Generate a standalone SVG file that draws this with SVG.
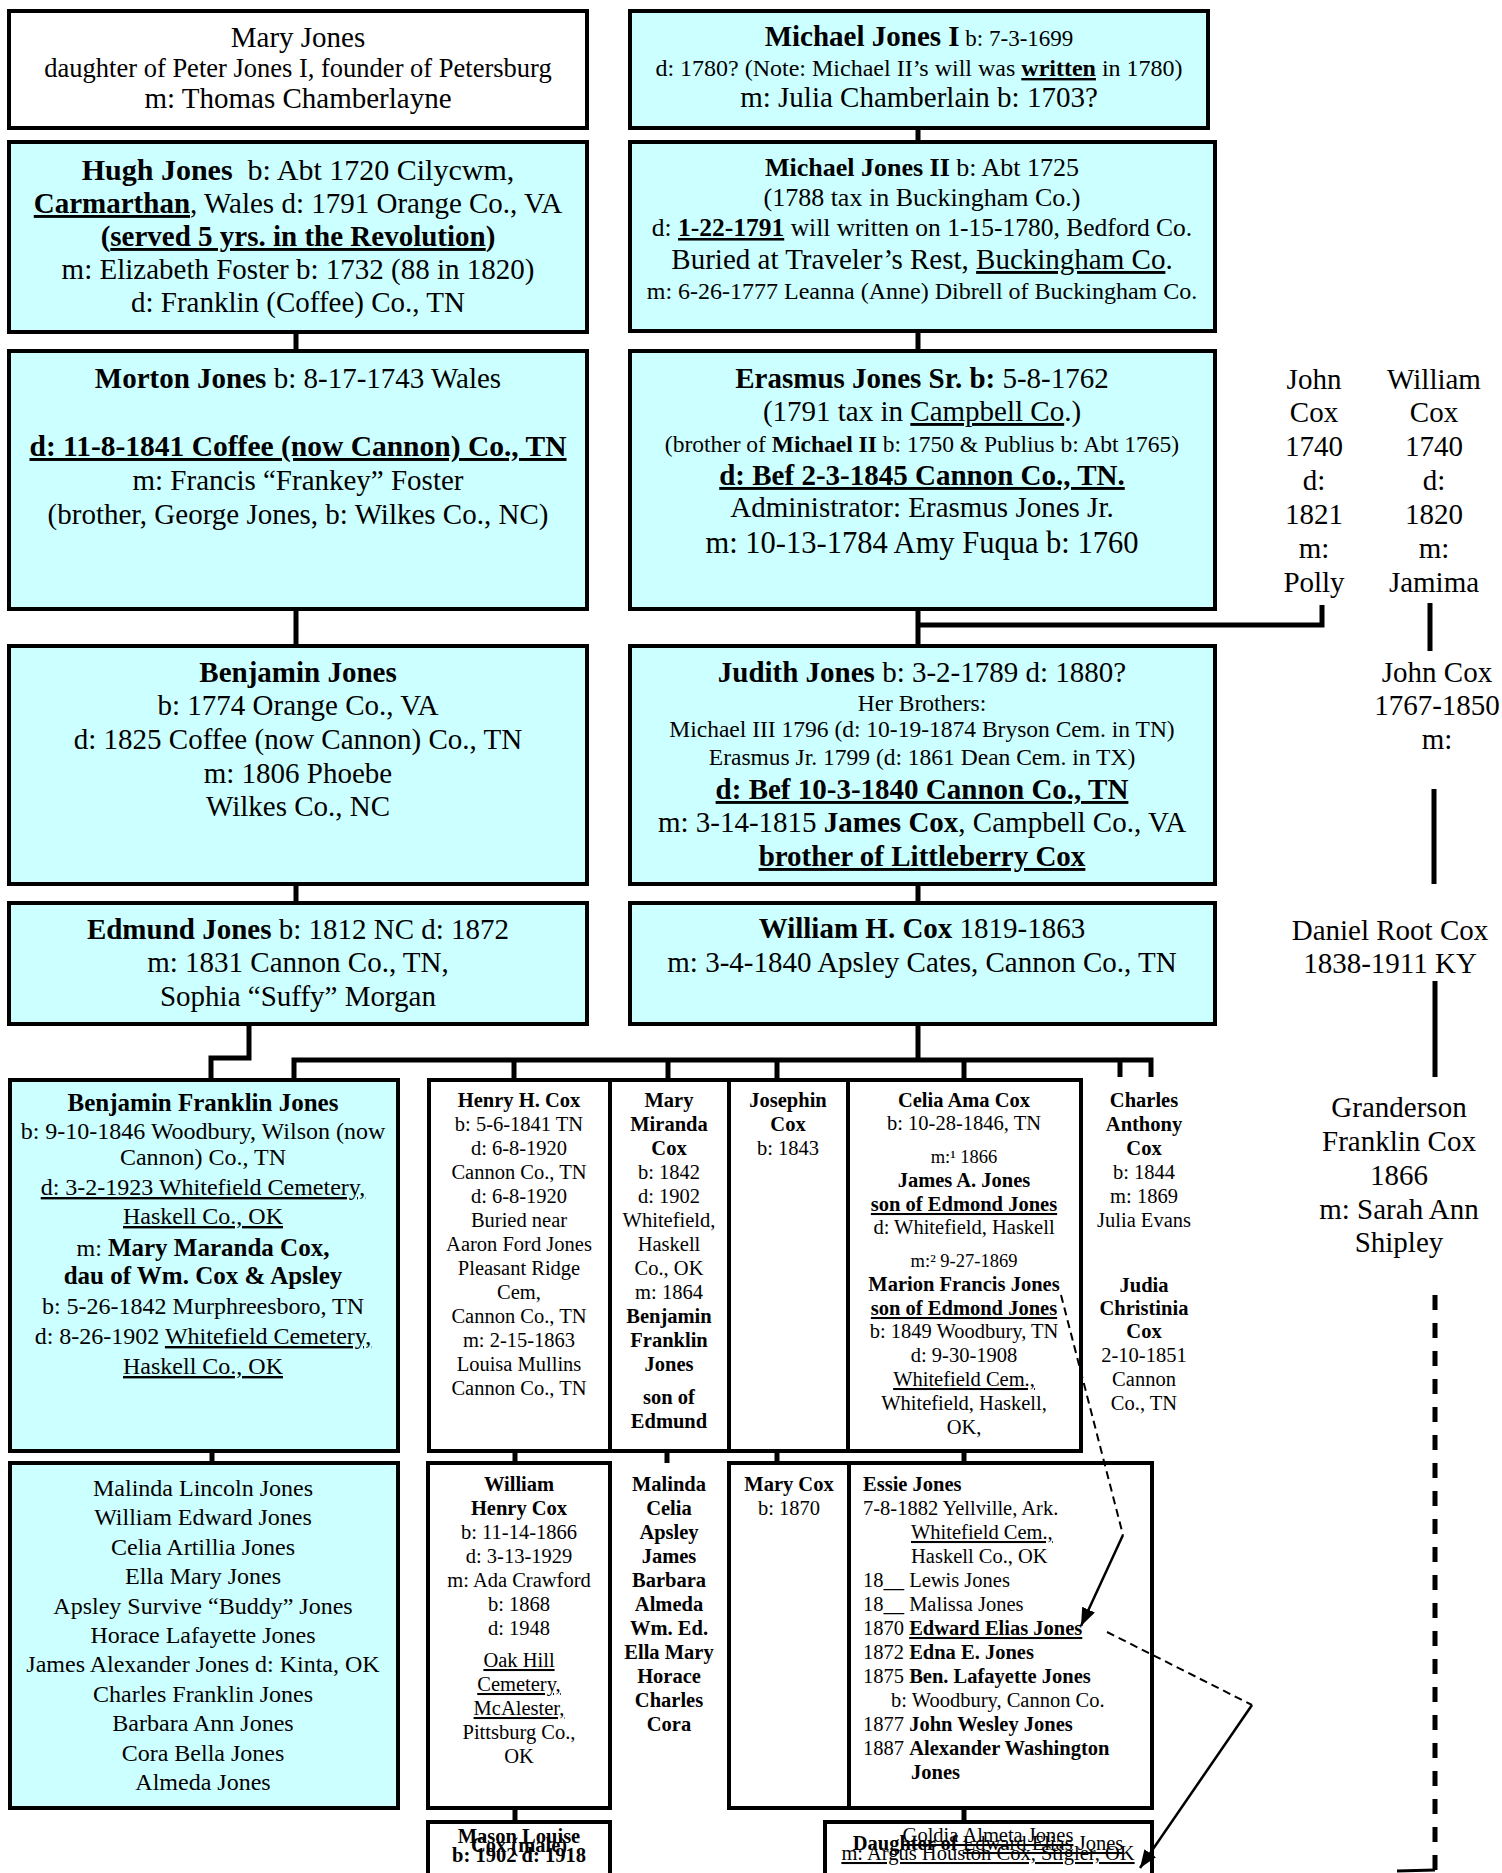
<svg xmlns="http://www.w3.org/2000/svg" width="1502" height="1873" viewBox="0 0 1502 1873">
<style>
.cy{fill:#ccffff;stroke:#000;stroke-width:4}
.wh{fill:#fff;stroke:#000;stroke-width:4}
.ln{stroke:#000;stroke-width:5;fill:none}
.dv{stroke:#000;stroke-width:4}
.ds{stroke:#000;stroke-width:2;fill:none;stroke-dasharray:8 5}
.ar{stroke:#000;stroke-width:2.5;fill:none}
text{font-family:"Liberation Serif","Times New Roman",serif;fill:#000}
.m{text-anchor:middle}
.b{font-weight:bold}
.u{text-decoration:underline}
.t29{font-size:29px}
.t24{font-size:23.5px}
.g{font-size:20.5px}
.gs{font-size:18.5px}
.gl{font-size:24px}
</style>
<defs>
<marker id="ah" markerUnits="userSpaceOnUse" markerWidth="20" markerHeight="14" refX="18" refY="7" orient="auto">
<path d="M0,0 L18,7 L0,14 z" fill="#000"/>
</marker>
</defs>

<g id="mary-jones">
<rect class="wh" x="9" y="11" width="578" height="117"/>
<text class="m t29" x="298" y="47">Mary Jones</text>
<text class="m" x="298" y="77" font-size="26.5">daughter of Peter Jones I, founder of Petersburg</text>
<text class="m t29" x="298" y="108">m: Thomas Chamberlayne</text>
</g>

<g id="michael-jones-i">
<rect class="cy" x="630" y="11" width="578" height="117"/>
<text class="m" x="919" y="46" font-size="23"><tspan class="b" font-size="29">Michael Jones I</tspan>  b: 7-3-1699</text>
<text class="m" x="919" y="76" font-size="24">d: 1780? (Note: Michael II’s will was <tspan class="b u">written</tspan> in 1780)</text>
<text class="m t29" x="919" y="107">m: Julia Chamberlain b: 1703?</text>
</g>

<g id="hugh-jones">
<rect class="cy" x="9" y="142" width="578" height="190"/>
<text class="m" x="298" y="180" font-size="30" xml:space="preserve"><tspan class="b">Hugh Jones</tspan>  b: Abt 1720 Cilycwm,</text>
<text class="m t29" x="298" y="213"><tspan class="b u">Carmarthan</tspan>, Wales d: 1791 Orange Co., VA</text>
<text class="m t29 b" x="298" y="246">(<tspan class="u">served 5 yrs. in the Revolution</tspan>)</text>
<text class="m t29" x="298" y="279">m: Elizabeth Foster b: 1732 (88 in 1820)</text>
<text class="m t29" x="298" y="312">d: Franklin (Coffee) Co., TN</text>
</g>

<g id="michael-jones-ii">
<rect class="cy" x="630" y="142" width="585" height="189"/>
<text class="m" x="922" y="176" font-size="26"><tspan class="b">Michael Jones II</tspan> b: Abt 1725</text>
<text class="m" x="922" y="206" font-size="26">(1788 tax in Buckingham Co.)</text>
<text class="m" x="922" y="236" font-size="25.5">d: <tspan class="b u">1-22-1791</tspan> will written on 1-15-1780, Bedford Co.</text>
<text class="m t29" x="922" y="269">Buried at Traveler’s Rest, <tspan class="u">Buckingham Co</tspan>.</text>
<text class="m" x="922" y="299" font-size="24">m: 6-26-1777 Leanna (Anne) Dibrell of Buckingham Co.</text>
</g>

<g id="morton-jones">
<rect class="cy" x="9" y="351" width="578" height="258"/>
<text class="m t29" x="298" y="388"><tspan class="b">Morton Jones</tspan> b: 8-17-1743 Wales</text>
<text class="m b u" x="298" y="456" font-size="29.5">d: 11-8-1841 Coffee (now Cannon) Co., TN</text>
<text class="m t29" x="298" y="490">m: Francis “Frankey” Foster</text>
<text class="m t29" x="298" y="524">(brother, George Jones, b: Wilkes Co., NC)</text>
</g>

<g id="erasmus-jones-sr">
<rect class="cy" x="630" y="351" width="585" height="258"/>
<text class="m t29" x="922" y="388"><tspan class="b">Erasmus Jones Sr. b:</tspan> 5-8-1762</text>
<text class="m t29" x="922" y="421">(1791 tax in <tspan class="u">Campbell Co</tspan>.)</text>
<text class="m t24" x="922" y="452">(brother of <tspan class="b">Michael II</tspan> b: 1750 &amp; Publius b: Abt 1765)</text>
<text class="m t29 b u" x="922" y="485">d: Bef 2-3-1845 Cannon Co., TN.</text>
<text class="m t29" x="922" y="517">Administrator: Erasmus Jones Jr.</text>
<text class="m" x="922" y="553" font-size="30.5">m: 10-13-1784 Amy Fuqua b: 1760</text>
</g>

<g id="john-cox-1740">
<text class="m t29" x="1314" y="389">John</text>
<text class="m t29" x="1314" y="422">Cox</text>
<text class="m t29" x="1314" y="456">1740</text>
<text class="m t29" x="1314" y="490">d:</text>
<text class="m t29" x="1314" y="524">1821</text>
<text class="m t29" x="1314" y="558">m:</text>
<text class="m t29" x="1314" y="592">Polly</text>
</g>

<g id="william-cox-1740">
<text class="m t29" x="1434" y="389">William</text>
<text class="m t29" x="1434" y="422">Cox</text>
<text class="m t29" x="1434" y="456">1740</text>
<text class="m t29" x="1434" y="490">d:</text>
<text class="m t29" x="1434" y="524">1820</text>
<text class="m t29" x="1434" y="558">m:</text>
<text class="m t29" x="1434" y="592">Jamima</text>
</g>

<g id="benjamin-jones">
<rect class="cy" x="9" y="646" width="578" height="238"/>
<text class="m t29 b" x="298" y="682">Benjamin Jones</text>
<text class="m t29" x="298" y="715">b: 1774 Orange Co., VA</text>
<text class="m t29" x="298" y="749">d: 1825 Coffee (now Cannon) Co., TN</text>
<text class="m t29" x="298" y="783">m: 1806 Phoebe</text>
<text class="m t29" x="298" y="816">Wilkes Co., NC</text>
</g>

<g id="judith-jones">
<rect class="cy" x="630" y="646" width="585" height="238"/>
<text class="m t29" x="922" y="682"><tspan class="b">Judith Jones</tspan> b: 3-2-1789 d: 1880?</text>
<text class="m t24" x="922" y="711">Her Brothers:</text>
<text class="m t24" x="922" y="737">Michael III 1796 (d: 10-19-1874 Bryson Cem. in TN)</text>
<text class="m t24" x="922" y="765">Erasmus Jr. 1799 (d: 1861 Dean Cem. in TX)</text>
<text class="m t29 b u" x="922" y="799">d: Bef 10-3-1840 Cannon Co., TN</text>
<text class="m t29" x="922" y="832">m: 3-14-1815 <tspan class="b">James Cox</tspan>, Campbell Co., VA</text>
<text class="m t29 b u" x="922" y="866">brother of Littleberry Cox</text>
</g>

<g id="john-cox-1767">
<text class="m t29" x="1437" y="682">John Cox</text>
<text class="m t29" x="1437" y="715">1767-1850</text>
<text class="m t29" x="1437" y="749">m:</text>
</g>

<g id="edmund-jones">
<rect class="cy" x="9" y="903" width="578" height="121"/>
<text class="m t29" x="298" y="939"><tspan class="b">Edmund Jones</tspan> b: 1812 NC d: 1872</text>
<text class="m t29" x="298" y="972">m: 1831 Cannon Co., TN,</text>
<text class="m t29" x="298" y="1006">Sophia “Suffy” Morgan</text>
</g>

<g id="william-h-cox">
<rect class="cy" x="630" y="903" width="585" height="121"/>
<text class="m t29" x="922" y="938"><tspan class="b">William H. Cox</tspan> 1819-1863</text>
<text class="m t29" x="922" y="972">m: 3-4-1840 Apsley Cates, Cannon Co., TN</text>
</g>

<g id="daniel-root-cox">
<text class="m t29" x="1390" y="940">Daniel Root Cox</text>
<text class="m t29" x="1390" y="973">1838-1911 KY</text>
</g>

<g id="granderson-cox">
<text class="m t29" x="1399" y="1117">Granderson</text>
<text class="m t29" x="1399" y="1151">Franklin Cox</text>
<text class="m t29" x="1399" y="1185">1866</text>
<text class="m t29" x="1399" y="1219">m: Sarah Ann</text>
<text class="m t29" x="1399" y="1252">Shipley</text>
</g>

<g id="benjamin-franklin-jones">
<rect class="cy" x="10" y="1080" width="388" height="371"/>
<text class="m b" x="203" y="1111" font-size="25">Benjamin Franklin Jones</text>
<text class="m gl" x="203" y="1139">b: 9-10-1846 Woodbury, Wilson (now</text>
<text class="m gl" x="203" y="1165">Cannon) Co., TN</text>
<text class="m gl u" x="203" y="1195">d: 3-2-1923 Whitefield Cemetery,</text>
<text class="m gl u" x="203" y="1224">Haskell Co., OK</text>
<text class="m gl" x="203" y="1256">m: <tspan class="b" font-size="25">Mary Maranda Cox,</tspan></text>
<text class="m b" x="203" y="1284" font-size="25">dau of Wm. Cox &amp; Apsley</text>
<text class="m gl" x="203" y="1314">b: 5-26-1842 Murphreesboro, TN</text>
<text class="m gl" x="203" y="1344">d: 8-26-1902 <tspan class="u">Whitefield Cemetery,</tspan></text>
<text class="m gl u" x="203" y="1374">Haskell Co., OK</text>
</g>

<g id="cox-children-table">
<rect class="wh" x="429" y="1080" width="652" height="371"/>
<line class="dv" x1="610" y1="1080" x2="610" y2="1451"/>
<line class="dv" x1="729" y1="1080" x2="729" y2="1451"/>
<line class="dv" x1="848" y1="1080" x2="848" y2="1451"/>
</g>

<g id="henry-h-cox">
<text class="m g b" x="519" y="1107">Henry H. Cox</text>
<text class="m g" x="519" y="1131">b: 5-6-1841 TN</text>
<text class="m g" x="519" y="1155">d: 6-8-1920</text>
<text class="m g" x="519" y="1179">Cannon Co., TN</text>
<text class="m g" x="519" y="1203">d: 6-8-1920</text>
<text class="m g" x="519" y="1227">Buried near</text>
<text class="m g" x="519" y="1251">Aaron Ford Jones</text>
<text class="m g" x="519" y="1275">Pleasant Ridge</text>
<text class="m g" x="519" y="1299">Cem,</text>
<text class="m g" x="519" y="1323">Cannon Co., TN</text>
<text class="m g" x="519" y="1347">m: 2-15-1863</text>
<text class="m g" x="519" y="1371">Louisa Mullins</text>
<text class="m g" x="519" y="1395">Cannon Co., TN</text>
</g>

<g id="mary-miranda-cox">
<text class="m g b" x="669" y="1107">Mary</text>
<text class="m g b" x="669" y="1131">Miranda</text>
<text class="m g b" x="669" y="1155">Cox</text>
<text class="m g" x="669" y="1179">b: 1842</text>
<text class="m g" x="669" y="1203">d: 1902</text>
<text class="m g" x="669" y="1227">Whitefield,</text>
<text class="m g" x="669" y="1251">Haskell</text>
<text class="m g" x="669" y="1275">Co., OK</text>
<text class="m g" x="669" y="1299">m: 1864</text>
<text class="m g b" x="669" y="1323">Benjamin</text>
<text class="m g b" x="669" y="1347">Franklin</text>
<text class="m g b" x="669" y="1371">Jones</text>
<text class="m g b" x="669" y="1404">son of</text>
<text class="m g b" x="669" y="1428">Edmund</text>
</g>

<g id="josephin-cox">
<text class="m g b" x="788" y="1107">Josephin</text>
<text class="m g b" x="788" y="1131">Cox</text>
<text class="m g" x="788" y="1155">b: 1843</text>
</g>

<g id="celia-ama-cox">
<text class="m g b" x="964" y="1107">Celia Ama Cox</text>
<text class="m g" x="964" y="1130">b: 10-28-1846, TN</text>
<text class="m gs" x="964" y="1163">m:¹ 1866</text>
<text class="m g b" x="964" y="1187">James A. Jones</text>
<text class="m g b u" x="964" y="1211">son of Edmond Jones</text>
<text class="m g" x="964" y="1234">d: Whitefield, Haskell</text>
<text class="m gs" x="964" y="1267">m:² 9-27-1869</text>
<text class="m g b" x="964" y="1291">Marion Francis Jones</text>
<text class="m g b u" x="964" y="1315">son of Edmond Jones</text>
<text class="m g" x="964" y="1338">b: 1849 Woodbury, TN</text>
<text class="m g" x="964" y="1362">d: 9-30-1908</text>
<text class="m g u" x="964" y="1386">Whitefield Cem.,</text>
<text class="m g" x="964" y="1410">Whitefield, Haskell,</text>
<text class="m g" x="964" y="1434">OK,</text>
</g>

<g id="charles-anthony-cox">
<text class="m g b" x="1144" y="1107">Charles</text>
<text class="m g b" x="1144" y="1131">Anthony</text>
<text class="m g b" x="1144" y="1155">Cox</text>
<text class="m g" x="1144" y="1179">b: 1844</text>
<text class="m g" x="1144" y="1203">m: 1869</text>
<text class="m g" x="1144" y="1227">Julia Evans</text>
</g>

<g id="judia-christinia-cox">
<text class="m g b" x="1144" y="1292">Judia</text>
<text class="m g b" x="1144" y="1315">Christinia</text>
<text class="m g b" x="1144" y="1338">Cox</text>
<text class="m g" x="1144" y="1362">2-10-1851</text>
<text class="m g" x="1144" y="1386">Cannon</text>
<text class="m g" x="1144" y="1410">Co., TN</text>
</g>

<g id="bfj-children">
<rect class="cy" x="10" y="1463" width="388" height="345"/>
<text class="m gl" x="203" y="1496">Malinda Lincoln Jones</text>
<text class="m gl" x="203" y="1525">William Edward Jones</text>
<text class="m gl" x="203" y="1555">Celia Artillia Jones</text>
<text class="m gl" x="203" y="1584">Ella Mary Jones</text>
<text class="m gl" x="203" y="1614">Apsley Survive “Buddy” Jones</text>
<text class="m gl" x="203" y="1643">Horace Lafayette Jones</text>
<text class="m gl" x="203" y="1672">James Alexander Jones d: Kinta, OK</text>
<text class="m gl" x="203" y="1702">Charles Franklin Jones</text>
<text class="m gl" x="203" y="1731">Barbara Ann Jones</text>
<text class="m gl" x="203" y="1761">Cora Bella Jones</text>
<text class="m gl" x="203" y="1790">Almeda Jones</text>
</g>

<g id="william-henry-cox">
<rect class="wh" x="428" y="1463" width="182" height="345"/>
<text class="m g b" x="519" y="1491">William</text>
<text class="m g b" x="519" y="1515">Henry Cox</text>
<text class="m g" x="519" y="1539">b: 11-14-1866</text>
<text class="m g" x="519" y="1563">d: 3-13-1929</text>
<text class="m g" x="519" y="1587">m: Ada Crawford</text>
<text class="m g" x="519" y="1611">b: 1868</text>
<text class="m g" x="519" y="1635">d: 1948</text>
<text class="m g u" x="519" y="1667">Oak Hill</text>
<text class="m g u" x="519" y="1691">Cemetery,</text>
<text class="m g u" x="519" y="1715">McAlester,</text>
<text class="m g" x="519" y="1739">Pittsburg Co.,</text>
<text class="m g" x="519" y="1763">OK</text>
</g>

<g id="mary-miranda-children">
<text class="m g b" x="669" y="1491">Malinda</text>
<text class="m g b" x="669" y="1515">Celia</text>
<text class="m g b" x="669" y="1539">Apsley</text>
<text class="m g b" x="669" y="1563">James</text>
<text class="m g b" x="669" y="1587">Barbara</text>
<text class="m g b" x="669" y="1611">Almeda</text>
<text class="m g b" x="669" y="1635">Wm. Ed.</text>
<text class="m g b" x="669" y="1659">Ella Mary</text>
<text class="m g b" x="669" y="1683">Horace</text>
<text class="m g b" x="669" y="1707">Charles</text>
<text class="m g b" x="669" y="1731">Cora</text>
</g>

<g id="celia-children-table">
<rect class="wh" x="729" y="1463" width="423" height="345"/>
<line class="dv" x1="849" y1="1463" x2="849" y2="1808"/>
</g>

<g id="mary-cox">
<text class="m g b" x="789" y="1491">Mary Cox</text>
<text class="m g" x="789" y="1515">b: 1870</text>
</g>

<g id="essie-jones">
<text class="g b" x="863" y="1491">Essie Jones</text>
<text class="g" x="863" y="1515">7-8-1882 Yellville, Ark.</text>
<text class="g u" x="911" y="1539">Whitefield Cem.,</text>
<text class="g" x="911" y="1563">Haskell Co., OK</text>
<text class="g" x="863" y="1587">18__ Lewis Jones</text>
<text class="g" x="863" y="1611">18__ Malissa Jones</text>
<text class="g" x="863" y="1635">1870 <tspan class="b u">Edward Elias Jones</tspan></text>
<text class="g" x="863" y="1659">1872 <tspan class="b">Edna E. Jones</tspan></text>
<text class="g" x="863" y="1683">1875 <tspan class="b">Ben. Lafayette Jones</tspan></text>
<text class="g" x="891" y="1707">b: Woodbury, Cannon Co.</text>
<text class="g" x="863" y="1731">1877 <tspan class="b">John Wesley Jones</tspan></text>
<text class="g" x="863" y="1755">1887 <tspan class="b">Alexander Washington</tspan></text>
<text class="g b" x="911" y="1779">Jones</text>
</g>

<g id="mason-louise-cox">
<rect class="wh" x="428" y="1822" width="182" height="70"/>
<text class="m g b" x="519" y="1843">Mason Louise</text>
<text class="m g b" x="519" y="1852">Cox (male)</text>
<text class="m g b" x="519" y="1862">b: 1902 d: 1918</text>
</g>

<g id="goldia-almeta-jones">
<rect class="wh" x="825" y="1822" width="327" height="70"/>
<text class="m g u" x="988" y="1842">Goldia Almeta Jones</text>
<text class="m g" x="988" y="1850"><tspan class="b">Daughter of</tspan> <tspan class="u">Edward Elias Jones</tspan></text>
<text class="m g u" x="988" y="1860">m: Argus Houston Cox, Stigler, OK</text>
</g>

<g id="connectors">
<path class="ln" d="M918,128 V142"/>
<path class="ln" d="M296,332 V351"/>
<path class="ln" d="M918,331 V351"/>
<path class="ln" d="M296,609 V646"/>
<path class="ln" d="M918,609 V646"/>
<path class="ln" d="M918,625 H1322 V605"/>
<path class="ln" d="M1430,603 V651"/>
<path class="ln" d="M296,884 V903"/>
<path class="ln" d="M918,884 V903"/>
<path class="ln" d="M1434,789 V884"/>
<path class="ln" d="M1435,981 V1077"/>
<path class="ln" d="M1435,1295 V1870" stroke-dasharray="15 13"/>
<path d="M1435,1870 L1397,1871" stroke="#000" stroke-width="3"/>
<path class="ln" d="M249,1024 V1058 H211 V1080"/>
<path class="ln" d="M918,1024 V1060"/>
<path class="ln" d="M294,1080 V1060 H1151 V1077"/>
<path class="ln" d="M1120,1060 V1077"/>
<path class="ln" d="M514,1060 V1080"/>
<path class="ln" d="M668,1060 V1080"/>
<path class="ln" d="M777,1060 V1080"/>
<path class="ln" d="M964,1060 V1080"/>
<path class="ln" d="M212,1451 V1463"/>
<path class="ln" d="M515,1451 V1463"/>
<path class="ln" d="M667,1451 V1463"/>
<path class="ln" d="M777,1451 V1463"/>
<path class="ln" d="M964,1451 V1463"/>
<path class="ln" d="M515,1808 V1822"/>
<path class="ln" d="M964,1808 V1822"/>
<path class="ds" d="M1061,1295 L1123,1535"/>
<path class="ar" d="M1123,1535 L1081,1626" marker-end="url(#ah)"/>
<path class="ds" d="M1107,1632 L1252,1705"/>
<path class="ar" d="M1252,1705 L1140,1868" marker-end="url(#ah)"/>
</g>
</svg>
